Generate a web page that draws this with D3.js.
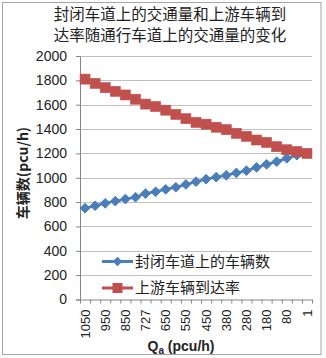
<!DOCTYPE html>
<html>
<head>
<meta charset="utf-8">
<script src="https://cdn.jsdelivr.net/npm/d3@7"></script>
<style>
  body { margin: 0; background: #fff; }
  svg { display: block; }
  .cjk { font-family: "Noto Sans CJK SC", sans-serif; }
  .num { font-family: "Liberation Sans", "DejaVu Sans", sans-serif; }
</style>
</head>
<body>
<div id="chart"></div>
<script>
// Qa categories (only every other one is labelled in the original)
var categories = [1050, 1000, 950, 900, 850, 800, 727, 700, 650, 600, 550, 500,
                  450, 420, 380, 330, 280, 230, 180, 130, 80, 30, 1];
// vehicles on the closed lane
var closedLane = [750, 770, 790, 808, 825, 840, 870, 885, 905, 922, 945, 968,
                  988, 1005, 1020, 1040, 1058, 1085, 1110, 1132, 1160, 1185, 1200];
// upstream arrival rate
var upstream = [1810, 1775, 1740, 1710, 1680, 1645, 1605, 1585, 1555, 1520, 1485, 1455,
                1440, 1415, 1395, 1365, 1340, 1310, 1290, 1255, 1230, 1215, 1200];
var yTicks = [0, 200, 400, 600, 800, 1000, 1200, 1400, 1600, 1800, 2000];

var W = 326, H = 358;
var plotL = 80, plotR = 312, plotT = 56, plotB = 299.5;

var svg = d3.select("#chart").append("svg")
    .attr("width", W)
    .attr("height", H);

// chart area border
svg.append("rect")
    .attr("x", 2.5).attr("y", 2.5)
    .attr("width", 318.5).attr("height", 352)
    .attr("fill", "#fff")
    .attr("stroke", "#a6a6a6")
    .attr("stroke-width", 1);

var x = d3.scaleBand().domain(d3.range(categories.length)).range([plotL, plotR]);
var xb = d3.scaleLinear().domain([0, categories.length]).range([plotL, plotR]);
var y = d3.scaleLinear().domain([0, 2000]).range([plotB, plotT]);

// gridlines
svg.append("g").selectAll("line")
    .data(yTicks.filter(function(d) { return d > 0; }))
  .enter().append("line")
    .attr("x1", plotL).attr("x2", plotR)
    .attr("y1", function(d) { return Math.round(y(d)) + 0.5; })
    .attr("y2", function(d) { return Math.round(y(d)) + 0.5; })
    .attr("stroke", "#bfbfbf")
    .attr("stroke-width", 1);

// y axis
var yAxis = svg.append("g")
    .attr("transform", "translate(" + plotL + ",0)")
    .call(d3.axisLeft(y).tickValues(yTicks).tickFormat(d3.format("d"))
        .tickSize(4).tickPadding(9));
yAxis.select(".domain").attr("stroke", "#868686");
yAxis.selectAll(".tick line").attr("stroke", "#868686");
yAxis.selectAll("text")
    .attr("fill", "#222")
    .style("font-size", "14px")
    .style("font-family", "Liberation Sans, sans-serif");

// x axis: tick marks at category boundaries
var xTickAxis = svg.append("g")
    .attr("transform", "translate(0," + plotB + ")")
    .call(d3.axisBottom(xb).tickValues(d3.range(categories.length + 1))
        .tickFormat("").tickSize(4).tickSizeOuter(0));
xTickAxis.select(".domain").attr("stroke", "#868686");
xTickAxis.selectAll(".tick line").attr("stroke", "#868686");

// x axis: labels, every other category
var xLab = svg.append("g")
    .attr("transform", "translate(0," + plotB + ")")
    .call(d3.axisBottom(x)
        .tickValues(d3.range(0, categories.length, 2))
        .tickFormat(function(i) { return categories[i]; })
        .tickSize(0));
xLab.select(".domain").remove();
xLab.selectAll("text")
    .attr("transform", "rotate(-90)")
    .attr("x", -10)
    .attr("y", 0)
    .attr("dy", "0.35em")
    .attr("text-anchor", "end")
    .attr("fill", "#222")
    .style("font-size", "13px")
    .style("font-family", "Liberation Sans, sans-serif");

var cx = function(d, i) { return x(i) + x.bandwidth() / 2; };
var line = d3.line()
    .x(function(d, i) { return x(i) + x.bandwidth() / 2; })
    .y(function(d) { return y(d); });

// blue series
svg.append("path")
    .datum(closedLane)
    .attr("d", line)
    .attr("fill", "none")
    .attr("stroke", "#4a7ebb")
    .attr("stroke-width", 2.5);
var diamond = d3.symbol().type(d3.symbolDiamond2).size(60);
svg.append("g").selectAll("path")
    .data(closedLane)
  .enter().append("path")
    .attr("d", diamond)
    .attr("transform", function(d, i) { return "translate(" + cx(d, i) + "," + y(d) + ")"; })
    .attr("fill", "#4a7ebb")
    .attr("stroke", "#4a7ebb");

// red series
svg.append("path")
    .datum(upstream)
    .attr("d", line)
    .attr("fill", "none")
    .attr("stroke", "#c0504d")
    .attr("stroke-width", 2.5);
svg.append("g").selectAll("rect")
    .data(upstream)
  .enter().append("rect")
    .attr("x", function(d, i) { return cx(d, i) - 5; })
    .attr("y", function(d) { return y(d) - 5; })
    .attr("width", 10).attr("height", 10)
    .attr("fill", "#c0504d")
    .attr("stroke", "#c0504d")
    .attr("stroke-width", 0.6);

// legend
var legend = [
  {name: "封闭车道上的车辆数", color: "#4a7ebb", shape: "diamond", y: 261.5},
  {name: "上游车辆到达率", color: "#c0504d", shape: "square", y: 288}
];
var lg = svg.append("g").selectAll("g")
    .data(legend)
  .enter().append("g")
    .attr("transform", function(d) { return "translate(0," + d.y + ")"; });
lg.append("line")
    .attr("x1", 102).attr("x2", 133)
    .attr("stroke", function(d) { return d.color; })
    .attr("stroke-width", 3);
lg.filter(function(d) { return d.shape == "diamond"; }).append("path")
    .attr("d", diamond)
    .attr("transform", "translate(117.5,0)")
    .attr("fill", function(d) { return d.color; });
lg.filter(function(d) { return d.shape == "square"; }).append("rect")
    .attr("x", 112.5).attr("y", -5).attr("width", 10).attr("height", 10)
    .attr("fill", function(d) { return d.color; });
lg.append("text")
    .attr("class", "cjk")
    .attr("x", 135)
    .attr("dy", "0.36em")
    .attr("fill", "#222")
    .style("font-size", "15px")
    .text(function(d) { return d.name; });

// title
var title = svg.append("text")
    .attr("class", "cjk")
    .attr("text-anchor", "middle")
    .attr("fill", "#222")
    .style("font-size", "15.5px");
title.append("tspan").attr("x", 170).attr("y", 20).text("封闭车道上的交通量和上游车辆到");
title.append("tspan").attr("x", 170).attr("y", 41).text("达率随通行车道上的交通量的变化");

// y axis title
svg.append("text")
    .attr("class", "cjk")
    .attr("transform", "translate(23,173) rotate(-90)")
    .attr("text-anchor", "middle")
    .attr("dy", "0.36em")
    .attr("fill", "#222")
    .style("font-size", "14px")
    .style("font-weight", "bold")
    .text("车辆数(pcu/h)");

// x axis title
var xt = svg.append("text")
    .attr("class", "num")
    .attr("x", 181).attr("y", 351)
    .attr("text-anchor", "middle")
    .attr("fill", "#222")
    .style("font-size", "14px")
    .style("font-weight", "bold");
xt.append("tspan").text("Q");
xt.append("tspan").attr("dy", 3).style("font-size", "10px").text("a");
xt.append("tspan").attr("dy", -3).text(" (pcu/h)");
</script>
</body>
</html>
